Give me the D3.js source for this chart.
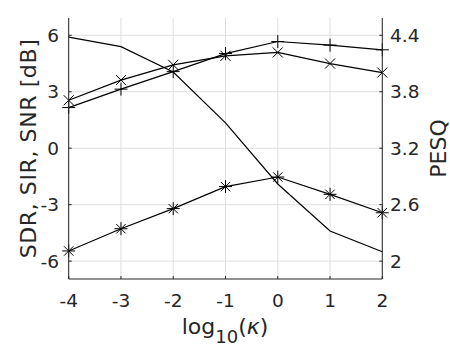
<!DOCTYPE html>
<html>
<head>
<meta charset="utf-8">
<script src="https://cdn.jsdelivr.net/npm/d3@7"></script>
<style>
  body { margin: 0; background: #fff; }
  text { font-family: "DejaVu Sans", sans-serif; fill: #262626; }
</style>
</head>
<body>
<svg id="chart" width="450" height="350"></svg>
<script>
// data
const kappa = [-4, -3, -2, -1, 0, 1, 2];
const sdr = [-5.46, -4.28, -3.21, -2.04, -1.53, -2.45, -3.43];
const sir = [2.55, 3.62, 4.43, 4.91, 5.09, 4.50, 4.02];
const snr = [2.16, 3.14, 4.07, 5.03, 5.67, 5.48, 5.23];
const pesq = [4.38, 4.28, 4.01, 3.47, 2.82, 2.32, 2.10];

const xTicks = [-4, -3, -2, -1, 0, 1, 2];
const leftTicks = [-6, -3, 0, 3, 6];
const rightTicks = [2, 2.6, 3.2, 3.8, 4.4];

const svg = d3.select("#chart");
const pL = 68.7, pR = 382.3, pT = 18, pB = 279;
const axisColor = "#262626";

const x = d3.scaleLinear().domain([-4, 2]).range([pL, pR]);
const yL = d3.scaleLinear().domain([-6.95, 6.92]).range([pB, pT]);
const yR = d3.scaleLinear().domain([3.2 - 6.95 / 5, 3.2 + 6.92 / 5]).range([pB, pT]);

function drawLine(g, path, stroke, width) {
  return g.append("path")
    .attr("d", path)
    .attr("stroke", stroke)
    .attr("stroke-width", width)
    .attr("fill", "none");
}

function drawTxt(g, tx, ty, txt, size, anchor = "start") {
  return g.append("text")
    .attr("x", tx)
    .attr("y", ty)
    .attr("font-size", size)
    .style("text-anchor", anchor)
    .text(txt);
}

// grid
const grid = svg.append("g");
xTicks.forEach(t => drawLine(grid, `M${x(t)},${pT}V${pB}`, "#dfdfdf", 1));
leftTicks.forEach(t => drawLine(grid, `M${pL},${yL(t)}H${pR}`, "#dfdfdf", 1));

// series
const plot = svg.append("g");
function series(vals, scale) {
  const line = d3.line().x((d, i) => x(kappa[i])).y(d => scale(d));
  drawLine(plot, line(vals), "#000", 1.2);
}
function markers(vals, scale, type, r) {
  vals.forEach((v, i) => {
    const cx = x(kappa[i]), cy = scale(v);
    let p = "";
    const d = r * 0.72;
    if (type === "+" || type === "*") p += `M${cx - r},${cy}H${cx + r}M${cx},${cy - r}V${cy + r}`;
    if (type === "x" || type === "*") p += `M${cx - d},${cy - d}L${cx + d},${cy + d}M${cx - d},${cy + d}L${cx + d},${cy - d}`;
    drawLine(plot, p, "#000", 1);
  });
}
series(pesq, yR);
series(sdr, yL);
markers(sdr, yL, "*", 6.5);
series(sir, yL);
markers(sir, yL, "x", 7);
series(snr, yL);
markers(snr, yL, "+", 6.5);

// axes
const ax = svg.append("g");
drawLine(ax, `M${pL},${pT}V${pB}H${pR}V${pT}`, axisColor, 1);
xTicks.forEach(t => {
  drawLine(ax, `M${x(t)},${pB}v-3`, axisColor, 1);
  drawTxt(ax, x(t), 307, String(t), 18.5, "middle");
});
leftTicks.forEach(t => {
  drawLine(ax, `M${pL},${yL(t)}h3`, axisColor, 1);
  drawTxt(ax, 59, yL(t) + 6.7, String(t), 18.5, "end");
});
rightTicks.forEach(t => {
  drawLine(ax, `M${pR},${yR(t)}h-3`, axisColor, 1);
  drawTxt(ax, 390, yR(t) + 6.7, String(t), 18.5, "start");
});

// labels
const xl = ax.append("text")
  .attr("x", 225).attr("y", 334)
  .attr("font-size", 22)
  .style("text-anchor", "middle");
xl.append("tspan").text("log");
xl.append("tspan").attr("font-size", 18).attr("dy", 9).text("10");
xl.append("tspan").attr("dy", -9).text("(");
xl.append("tspan").attr("font-style", "italic").text("κ");
xl.append("tspan").text(")");

ax.append("text")
  .attr("transform", `translate(36,${(pT + pB) / 2}) rotate(-90)`)
  .attr("font-size", 22)
  .attr("letter-spacing", 0.6)
  .style("text-anchor", "middle")
  .text("SDR, SIR, SNR [dB]");

ax.append("text")
  .attr("transform", `translate(446,${(pT + pB) / 2}) rotate(-90)`)
  .attr("font-size", 22)
  .style("text-anchor", "middle")
  .text("PESQ");
</script>
</body>
</html>
